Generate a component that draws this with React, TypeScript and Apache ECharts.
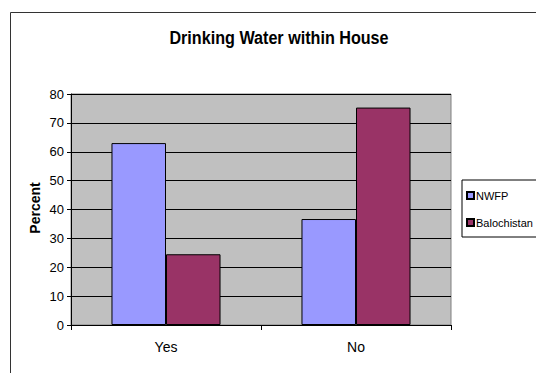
import React, { useEffect, useRef } from "react";
import * as echarts from "echarts";

// Share of households with drinking water inside the house, by province
const categories = ["Yes", "No"];
const seriesNames = ["NWFP", "Balochistan"];
const nwfpValues = [63, 36.7];
const balochistanValues = [24.5, 75.3];
const yTicks = { min: 0, max: 80, interval: 10 };

const SANS = "'Liberation Sans', Arial, sans-serif";

export default function App() {
  const ref = useRef<HTMLDivElement>(null);

  useEffect(() => {
    if (!ref.current) return;
    const chart = echarts.init(ref.current, null, { renderer: "svg" });
    chart.setOption({
      animation: false,
      backgroundColor: "#ffffff",
      graphic: [
        {
          type: "rect",
          shape: { x: 10.5, y: 12.5, width: 700, height: 500 },
          style: { fill: "none", stroke: "#333333", lineWidth: 1 },
          silent: true,
        },
        {
          // condensed bold heading
          type: "text",
          x: 279,
          y: 38,
          scaleX: 0.85,
          style: {
            text: "Drinking Water within House",
            fontFamily: SANS,
            fontWeight: "bold",
            fontSize: 19,
            fill: "#000",
            textAlign: "center",
            textVerticalAlign: "middle",
          },
        },
        {
          type: "text",
          x: 35,
          y: 208,
          rotation: Math.PI / 2,
          style: {
            text: "Percent",
            fontFamily: SANS,
            fontWeight: "bold",
            fontSize: 14,
            fill: "#000",
            textAlign: "center",
            textVerticalAlign: "middle",
          },
        },
      ],
      legend: {
        orient: "vertical",
        left: 462,
        top: 180,
        padding: [10, 60, 9, 4],
        itemGap: 16,
        itemWidth: 7,
        itemHeight: 7,
        icon: "rect",
        borderColor: "#000",
        borderWidth: 1,
        backgroundColor: "#fff",
        textStyle: { fontFamily: SANS, fontSize: 11, color: "#000", padding: [0, 0, 0, -3] },
        data: seriesNames,
      },
      grid: {
        left: 71,
        top: 94,
        right: 85,
        bottom: 48,
        show: true,
        backgroundColor: "#C0C0C0",
        borderColor: "#808080",
        borderWidth: 1,
      },
      xAxis: {
        type: "category",
        data: categories,
        axisLine: { lineStyle: { color: "#000", width: 1 } },
        axisTick: { show: true, alignWithLabel: false, length: 5, lineStyle: { color: "#000" } },
        axisLabel: { fontFamily: SANS, fontSize: 14, color: "#000", margin: 15 },
      },
      yAxis: {
        type: "value",
        min: yTicks.min,
        max: yTicks.max,
        interval: yTicks.interval,
        axisLine: { show: true, lineStyle: { color: "#000", width: 1 } },
        axisTick: { show: true, length: 4, lineStyle: { color: "#000" } },
        axisLabel: { fontFamily: SANS, fontSize: 13, color: "#000", margin: 7 },
        splitLine: { show: true, lineStyle: { color: "#000", width: 1 } },
      },
      series: [
        {
          name: seriesNames[0],
          type: "bar",
          data: nwfpValues,
          barGap: "0%",
          barCategoryGap: "42.6%",
          itemStyle: { color: "#9999FF", borderColor: "#000", borderWidth: 1 },
        },
        {
          name: seriesNames[1],
          type: "bar",
          data: balochistanValues,
          barGap: "0%",
          barCategoryGap: "42.6%",
          itemStyle: { color: "#993366", borderColor: "#000", borderWidth: 1 },
        },
      ],
    });
    return () => chart.dispose();
  }, []);

  return (
    <div
      ref={ref}
      style={{ position: "fixed", left: 0, top: 0, width: 536, height: 373 }}
    />
  );
}
